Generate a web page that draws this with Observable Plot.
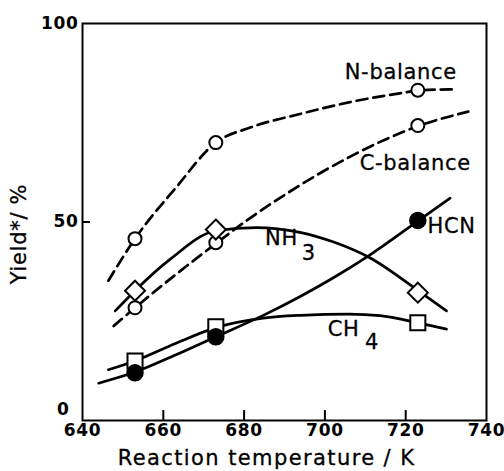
<!DOCTYPE html>
<html><head><meta charset="utf-8">
<script src="https://cdn.jsdelivr.net/npm/d3@7"></script>
<script src="https://cdn.jsdelivr.net/npm/@observablehq/plot@0.6"></script>
<style>
html,body{margin:0;padding:0;background:#fff;}
svg text{letter-spacing:0.7px;}
</style></head><body><div id="chart"></div>
<script>
// measured temperatures (K)
const temps = [653, 673, 723];
// measured yields (%)
const nBalance = [45.8, 70.0, 83.2];
const cBalance = [28.4, 44.8, 74.3];
const nh3 = [32.7, 48.1, 32.2];
const hcn = [12.0, 21.1, 50.4];
const ch4 = [15.0, 23.6, 24.6];

// hand-drawn guide curves
const nCurveT = [646.4, 653.0, 663.0, 673.0, 681.5, 693.8, 706.2, 718.5, 724.0, 731.6];
const nCurveY = [35.2, 45.8, 58.5, 70.0, 73.8, 77.2, 80.2, 82.4, 83.2, 83.4];
const cCurveT = [647.7, 653.0, 673.3, 681.5, 690.0, 698.3, 706.5, 715.0, 723.5, 735.5];
const cCurveY = [23.8, 28.4, 44.8, 51.0, 56.8, 62.0, 66.6, 70.8, 74.3, 77.8];
const nh3CurveT = [648.1, 653.0, 661.8, 673.0, 683.0, 693.8, 702.0, 711.1, 723.5, 730.1];
const nh3CurveY = [27.6, 32.7, 40.7, 47.8, 48.6, 47.4, 45.0, 41.0, 32.4, 27.6];
const hcnCurveT = [644.0, 653.0, 663.0, 673.0, 685.0, 694.0, 702.0, 711.0, 723.5, 731.0];
const hcnCurveY = [9.4, 12.2, 16.5, 21.1, 26.6, 31.3, 35.9, 41.6, 50.6, 56.0];
const ch4CurveT = [646.4, 653.0, 663.0, 673.0, 684.7, 694.0, 706.0, 713.6, 723.0, 730.1];
const ch4CurveY = [12.8, 15.0, 19.4, 23.4, 25.8, 26.5, 26.8, 26.4, 24.6, 23.0];

const xTickLabels = [640, 660, 680, 700, 720, 740];
const xInnerTicks = [660, 680, 700, 720];
const yTickLabels = [50, 100];
const yInnerTicks = [50];

// curve annotations
const labelText = ["N-balance", "C-balance", "HCN", "NH", "3", "CH", "4"];
const labelT = [704.9, 708.6, 725.4, 685.2, 694.3, 700.7, 709.9];
const labelY = [87.6, 64.9, 48.8, 45.8, 42.2, 22.9, 19.7];

const pts = (ys) => temps.map((t, i) => ({t, y: ys[i]}));
const crv = (ts, ys) => ts.map((t, i) => ({t, y: ys[i]}));
const labels = labelText.map((s, i) => ({s, t: labelT[i], y: labelY[i]}));

const lineOpts = {x: "t", y: "y", curve: "monotone-x", stroke: "black", strokeWidth: 2.7};
const dashOpts = {...lineOpts, strokeWidth: 2.7, strokeDasharray: "11,6"};
const textInk = {fill: "black", stroke: "black", strokeWidth: 0.3};

const chart = Plot.plot({
  width: 504,
  height: 471,
  marginLeft: 82,
  marginRight: 18,
  marginTop: 23,
  marginBottom: 51,
  x: {domain: [640, 740]},
  y: {domain: [0, 100]},
  style: {fontFamily: "DejaVu Sans", background: "white", color: "black"},
  marks: [
    Plot.frame({stroke: "black", strokeWidth: 2}),
    Plot.axisX({ticks: xTickLabels, tickSize: 0, tickPadding: 3, fontSize: 17, fontWeight: "bold", fill: "black", tickFormat: d => String(d), label: null}),
    Plot.ruleX(xInnerTicks, {x: d => d, y1: 0, y2: 2.5, stroke: "black", strokeWidth: 2}),
    Plot.axisY({ticks: yTickLabels, tickSize: 0, tickPadding: 4, fontSize: 17, fontWeight: "bold", fill: "black", tickFormat: d => String(d), label: null}),
    Plot.ruleY(yInnerTicks, {y: d => d, x1: 640, x2: 642, stroke: "black", strokeWidth: 2}),
    Plot.text(["0"], {x: 640, y: 0, text: d => d, textAnchor: "end", dx: -13, dy: -11, fontSize: 17, fontWeight: "bold", fill: "black"}),
    Plot.text(["Reaction temperature / K"], {frameAnchor: "bottom", text: d => d, textAnchor: "middle", lineAnchor: "middle", dx: -18, dy: 38, fontSize: 21, ...textInk}),
    Plot.text(["Yield*/ %"], {frameAnchor: "left", text: d => d, textAnchor: "middle", lineAnchor: "middle", rotate: -90, dx: -63, dy: 12, fontSize: 21, ...textInk}),

    Plot.line(crv(nCurveT, nCurveY), dashOpts),
    Plot.line(crv(cCurveT, cCurveY), dashOpts),
    Plot.line(crv(nh3CurveT, nh3CurveY), lineOpts),
    Plot.line(crv(hcnCurveT, hcnCurveY), lineOpts),
    Plot.line(crv(ch4CurveT, ch4CurveY), lineOpts),

    Plot.dot(pts(nBalance), {x: "t", y: "y", r: 6.5, fill: "white", stroke: "black", strokeWidth: 2}),
    Plot.dot(pts(cBalance), {x: "t", y: "y", r: 6.5, fill: "white", stroke: "black", strokeWidth: 2}),
    Plot.dot(pts(nh3), {x: "t", y: "y", r: 9, symbol: "diamond2", fill: "white", stroke: "black", strokeWidth: 2}),
    Plot.dot(pts(ch4), {x: "t", y: "y", r: 8.5, symbol: "square", fill: "white", stroke: "black", strokeWidth: 2}),
    Plot.dot(pts(hcn), {x: "t", y: "y", r: 8, fill: "black", stroke: "black"}),

    Plot.text(labels, {x: "t", y: "y", text: "s", textAnchor: "start", lineAnchor: "middle", fontSize: 21, ...textInk})
  ]
});
document.getElementById("chart").appendChild(chart);
d3.select(chart).selectAll("text")
  .filter(function() { return this.textContent.startsWith("Reaction"); })
  .style("letter-spacing", "1.4px");
</script>
</body></html>
